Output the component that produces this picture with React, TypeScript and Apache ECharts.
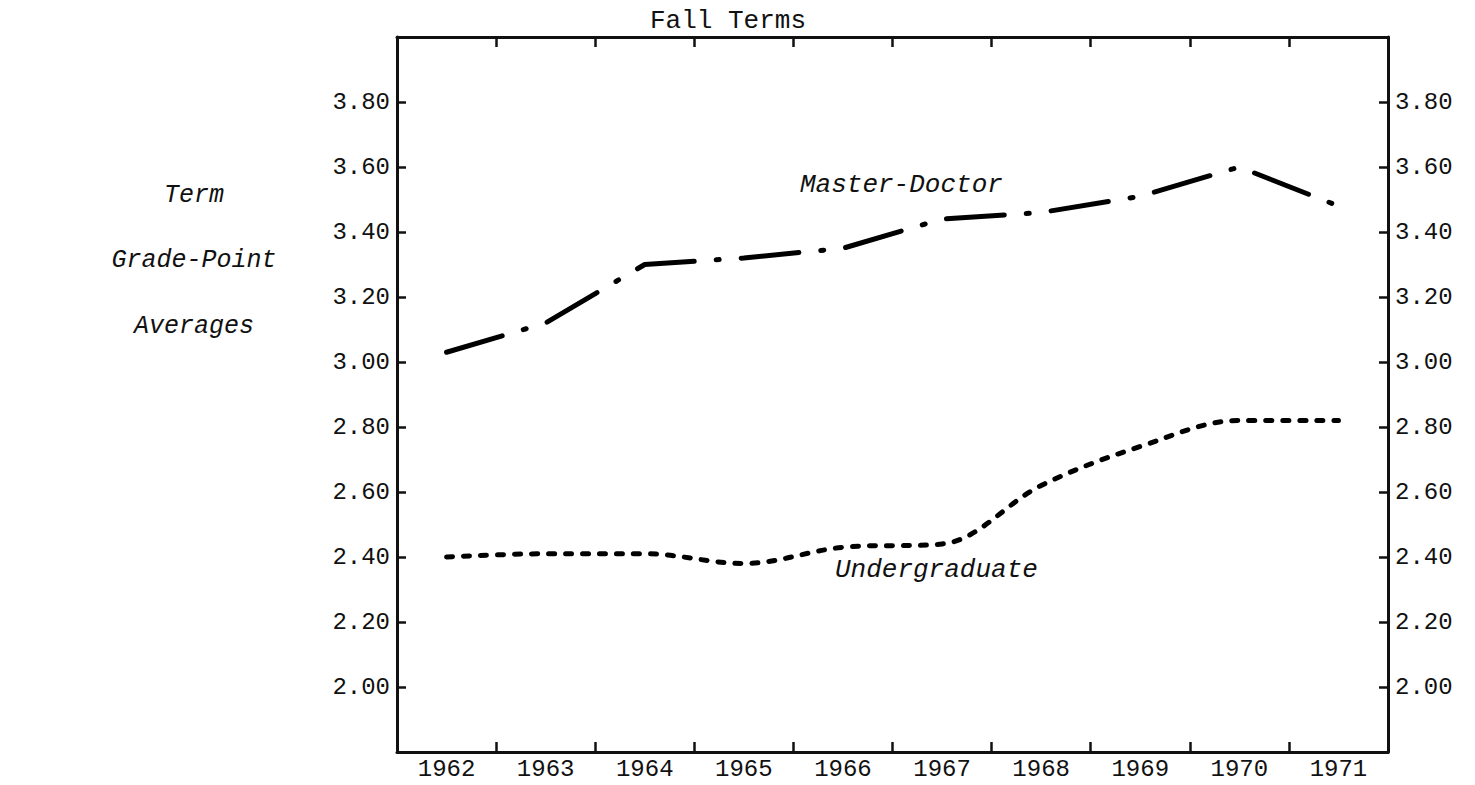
import React, { useEffect, useRef } from "react";
import * as echarts from "echarts";

const years = ["1962", "1963", "1964", "1965", "1966", "1967", "1968", "1969", "1970", "1971"];
const masterDoctor = [3.03, 3.12, 3.3, 3.32, 3.35, 3.44, 3.46, 3.51, 3.6, 3.48];
const undergraduate = [2.4, 2.41, 2.41, 2.38, 2.43, 2.44, 2.62, 2.74, 2.82, 2.82];
const yMin = 1.8;
const yMax = 4.0;
const yStep = 0.2;

const FONT = "'Liberation Mono', 'DejaVu Sans Mono', monospace";
const INK = "#111";

export default function App() {
  const ref = useRef<HTMLDivElement>(null);
  useEffect(() => {
    if (!ref.current) return;
    const chart = echarts.init(ref.current, null, { renderer: "svg" });
    const fmt = (v: number) => v.toFixed(2);
    const yAxisBase = (position: "left" | "right") => ({
      type: "value",
      position,
      min: yMin,
      max: yMax,
      interval: yStep,
      splitLine: { show: false },
      axisLine: { show: true, onZero: false, lineStyle: { color: INK, width: 3 } },
      axisTick: { show: true, inside: true, length: 9, lineStyle: { color: INK, width: 2.5 } },
      axisLabel: {
        show: true,
        showMinLabel: false,
        showMaxLabel: false,
        formatter: fmt,
        fontFamily: FONT,
        fontSize: 24,
        color: INK,
        margin: 7,
      },
    });
    const xAxisBase = (position: "top" | "bottom", labels: boolean) => ({
      type: "category",
      position,
      data: years,
      boundaryGap: true,
      axisLine: { show: true, onZero: false, lineStyle: { color: INK, width: 3 } },
      axisTick: { show: true, inside: true, length: 10, lineStyle: { color: INK, width: 2.5 } },
      splitLine: { show: false },
      axisLabel: {
        show: labels,
        fontFamily: FONT,
        fontSize: 24,
        color: INK,
        margin: 5,
      },
    });
    chart.setOption({
      animation: false,
      backgroundColor: "#fff",
      grid: { left: 397, right: 87, top: 37, bottom: 33, containLabel: false },
      xAxis: [xAxisBase("bottom", true), xAxisBase("top", false)],
      yAxis: [yAxisBase("left"), yAxisBase("right")],
      series: [
        {
          name: "Master-Doctor",
          type: "line",
          data: masterDoctor,
          xAxisIndex: 0,
          yAxisIndex: 0,
          symbol: "none",
          lineStyle: { color: "#000", width: 5, type: [58, 22, 3, 22], cap: "round", join: "round" },
        },
        {
          name: "Undergraduate",
          type: "line",
          data: undergraduate,
          xAxisIndex: 0,
          yAxisIndex: 0,
          symbol: "none",
          smooth: 0.35,
          lineStyle: { color: "#000", width: 5, type: [6, 11], cap: "round" },
        },
      ],
      graphic: [
        {
          type: "text",
          left: 650,
          top: 8,
          style: { text: "Fall Terms", fontFamily: FONT, fontSize: 26, fill: INK },
        },
        {
          type: "text",
          x: 800,
          y: 185,
          style: { text: "Master-Doctor", fontFamily: FONT, fontStyle: "italic", fontSize: 26, fill: INK, verticalAlign: "middle" },
        },
        {
          type: "text",
          x: 835,
          y: 570,
          style: { text: "Undergraduate", fontFamily: FONT, fontStyle: "italic", fontSize: 26, fill: INK, verticalAlign: "middle" },
        },
        {
          type: "text",
          x: 194,
          y: 195,
          style: { text: "Term", fontFamily: FONT, fontStyle: "italic", fontSize: 25, fill: INK, align: "center", verticalAlign: "middle" },
        },
        {
          type: "text",
          x: 194,
          y: 260,
          style: { text: "Grade-Point", fontFamily: FONT, fontStyle: "italic", fontSize: 25, fill: INK, align: "center", verticalAlign: "middle" },
        },
        {
          type: "text",
          x: 194,
          y: 326,
          style: { text: "Averages", fontFamily: FONT, fontStyle: "italic", fontSize: 25, fill: INK, align: "center", verticalAlign: "middle" },
        },
      ],
    });
    return () => chart.dispose();
  }, []);
  return (
    <div
      ref={ref}
      style={{ position: "fixed", left: 0, top: 0, width: 1475, height: 785, background: "#fff" }}
    />
  );
}
